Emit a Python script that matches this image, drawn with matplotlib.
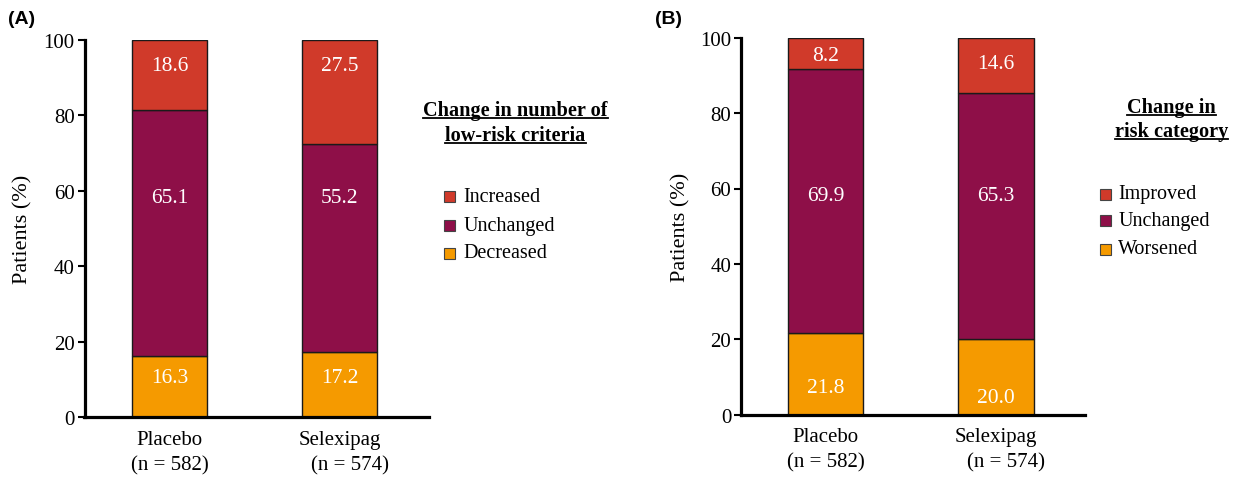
import matplotlib
matplotlib.use("Agg")
import matplotlib.pyplot as plt
from matplotlib.patches import Rectangle
from matplotlib.lines import Line2D
import numpy as np

plt.rcParams['font.family'] = ['Liberation Serif', 'DejaVu Serif']

groups = ["Placebo\n(n = 582)", "Selexipag\n    (n = 574)"]

# Panel A: change in number of low-risk criteria
a_labels = ["Decreased", "Unchanged", "Increased"]
a_decreased = [16.3, 17.2]
a_unchanged = [65.1, 55.2]
a_increased = [18.6, 27.5]
a_label_y = [[10.6, 10.6], [58.3, 58.3], [93.2, 93.2]]

# Panel B: change in risk category
b_labels = ["Worsened", "Unchanged", "Improved"]
b_worsened = [21.8, 20.0]
b_unchanged = [69.9, 65.3]
b_improved = [8.2, 14.6]
b_label_y = [[7.3, 4.6], [58.2, 58.2], [95.3, 93.1]]

colors = ["#F59A00", "#8E0F48", "#D03A2A"]

W, H = 1240, 481
fig = plt.figure(figsize=(12.4, 4.81), dpi=100)
axA = fig.add_axes([84.5/W, 1-418.3/H, 344.5/W, 377.3/H])
axB = fig.add_axes([741/W, 1-415.7/H, 344/W, 377/H])

def draw(ax, series, label_y, xlim, ylab_x):
    x = np.arange(len(groups))
    bottom = np.zeros(len(groups))
    for vals, col, ly in zip(series, colors, label_y):
        ax.bar(x, vals, bottom=bottom, width=0.445, color=col,
               edgecolor="#1a1a1a", linewidth=1.0, zorder=2)
        for xi, v, yy in zip(x, vals, ly):
            ax.text(xi, yy, f"{v:.1f}", ha="center", va="center",
                    color="white", fontsize=15.5)
        bottom += np.array(vals)
    ax.set_xlim(*xlim)
    ax.set_ylim(0, 100)
    ax.set_yticks([0, 20, 40, 60, 80, 100])
    ax.tick_params(axis="y", labelsize=15, length=5, width=1.5, direction="out", pad=2)
    ax.set_xticks(x)
    ax.set_xticklabels(groups, fontsize=15, linespacing=1.45)
    ax.tick_params(axis="x", length=0, pad=9)
    for s in ["top", "right"]:
        ax.spines[s].set_visible(False)
    for s in ["left", "bottom"]:
        ax.spines[s].set_linewidth(2.3)
    ax.set_ylabel("Patients (%)", fontsize=16)
    ax.yaxis.set_label_coords(ylab_x, 0.5)

draw(axA, [a_decreased, a_unchanged, a_increased], a_label_y, (-0.5, 1.526), -0.152)
draw(axB, [b_worsened, b_unchanged, b_improved], b_label_y, (-0.496, 1.524), -0.148)

fig.text(8/W, 1-20/H, "(A)", fontsize=14, fontweight="bold",
         family="Liberation Sans", va="center", ha="left")
fig.text(655/W, 1-20/H, "(B)", fontsize=14, fontweight="bold",
         family="Liberation Sans", va="center", ha="left")

def legend(labels, title_lines, title_x, title_ys, patch_x, text_x, entry_ys):
    titles = []
    for t, ty in zip(title_lines, title_ys):
        titles.append(fig.text(title_x/W, 1-ty/H, t, fontsize=14.6,
                               fontweight="bold", ha="center", va="center"))
    for lab, col, ey in zip(labels[::-1], colors[::-1], entry_ys):
        fig.add_artist(Rectangle((patch_x/W, 1-(ey+5.5)/H), 11/W, 11/H,
                                 facecolor=col, edgecolor="#444444", linewidth=0.8,
                                 transform=fig.transFigure))
        fig.text(text_x/W, 1-ey/H, lab, fontsize=14.5, ha="left", va="center")
    return titles

tA = legend(a_labels, ["Change in number of", "low-risk criteria"], 515.6, [110.7, 135.7],
            443.5, 463.3, [197.3, 226, 254])
tB = legend(b_labels, ["Change in", "risk category"], 1171.7, [107.7, 131.7],
            1099.5, 1118.3, [195, 221.7, 250])

fig.canvas.draw()
r = fig.canvas.get_renderer()
for t in tA + tB:
    bb = t.get_window_extent(renderer=r)
    y = bb.y0 + 1.5
    fig.add_artist(Line2D([bb.x0/W, bb.x1/W], [y/H, y/H],
                          color="black", linewidth=1.3, transform=fig.transFigure))

fig.savefig("out.png", dpi=100)
